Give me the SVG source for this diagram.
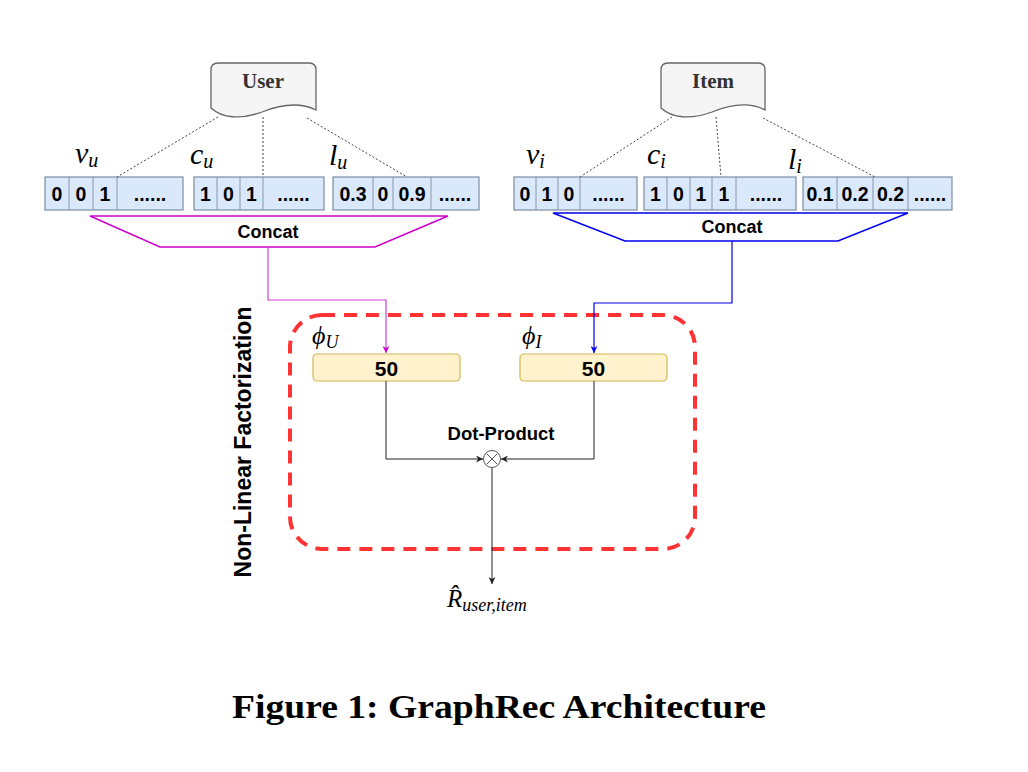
<svg xmlns="http://www.w3.org/2000/svg" width="1028" height="772" viewBox="0 0 1028 772">
<defs>
<style>
.cell{fill:#dae8fc;stroke:#7d8ca0;stroke-width:1.2}
.div{stroke:#8a96a6;stroke-width:1}
.d{font-family:"Liberation Sans",Arial,sans-serif;font-weight:bold;font-size:19.5px;fill:#000;text-anchor:middle;dominant-baseline:central}
.m{font-family:"Liberation Serif","Times New Roman",serif;font-style:italic;fill:#000}
.dot{fill:none;stroke:#444;stroke-width:1;stroke-dasharray:2 2}
.doc{fill:#f5f5f5;stroke:#666;stroke-width:1.3}
.doct{font-family:"Liberation Serif","Times New Roman",serif;font-weight:bold;font-size:21px;fill:#333;text-anchor:middle;dominant-baseline:central}
.box{fill:#fff2cc;stroke:#d6b656;stroke-width:1.2}
.blk{fill:none;stroke:#222;stroke-width:1}
</style>
<marker id="ab" viewBox="0 0 10 10" refX="10" refY="5" markerWidth="7" markerHeight="7" markerUnits="userSpaceOnUse" orient="auto"><path d="M0,0 L10,5 L0,10 L3,5 Z" fill="#222"/></marker>
<marker id="am" viewBox="0 0 10 10" refX="10" refY="5" markerWidth="7" markerHeight="7" markerUnits="userSpaceOnUse" orient="auto"><path d="M0,0 L10,5 L0,10 L3,5 Z" fill="#cc00cc"/></marker>
<marker id="abl" viewBox="0 0 10 10" refX="10" refY="5" markerWidth="7" markerHeight="7" markerUnits="userSpaceOnUse" orient="auto"><path d="M0,0 L10,5 L0,10 L3,5 Z" fill="#0000ee"/></marker>
</defs>
<rect width="1028" height="772" fill="#fff"/>

<g id="user">
<path class="doc" d="M316,110 V70 Q316,63 309,63 H218 Q211,63 211,70 V108 C222,118 240,120 262,112 C282,104 300,102 316,110 Z"/>
<text class="doct" x="263" y="81">User</text>
</g>
<g id="item">
<path class="doc" transform="translate(450,0)" d="M315,110 V70 Q315,63 308,63 H218 Q211,63 211,70 V108 C222,118 240,120 262,112 C282,104 300,102 315,110 Z"/>
<text class="doct" x="713" y="81">Item</text>
</g>

<g id="vu">
<rect class="cell" x="45" y="177" width="138" height="33"/>
<path class="div" d="M69,177V210M93,177V210M117,177V210"/>
<text class="d" x="57" y="194">0</text><text class="d" x="81" y="194">0</text><text class="d" x="105" y="194">1</text><text class="d" x="150" y="194">......</text>
<text class="m" x="75" y="163" font-size="30">v<tspan font-size="20" dy="4">u</tspan></text>
</g>
<g id="cu">
<rect class="cell" x="194" y="177" width="130" height="33"/>
<path class="div" d="M217,177V210M240,177V210M263,177V210"/>
<text class="d" x="205.5" y="194">1</text><text class="d" x="228.5" y="194">0</text><text class="d" x="251.5" y="194">1</text><text class="d" x="293.5" y="194">......</text>
<text class="m" x="190" y="164" font-size="30">c<tspan font-size="20" dy="4">u</tspan></text>
</g>
<g id="lu">
<rect class="cell" x="333" y="177" width="146" height="33"/>
<path class="div" d="M373,177V210M393,177V210M431,177V210"/>
<text class="d" x="353" y="194">0.3</text><text class="d" x="383" y="194">0</text><text class="d" x="412" y="194">0.9</text><text class="d" x="455" y="194">......</text>
<text class="m" x="329" y="165" font-size="30">l<tspan font-size="20" dy="4">u</tspan></text>
</g>

<g id="vi">
<rect class="cell" x="514" y="177" width="123" height="33"/>
<path class="div" d="M536,177V210M558,177V210M580,177V210"/>
<text class="d" x="525" y="194">0</text><text class="d" x="547" y="194">1</text><text class="d" x="569" y="194">0</text><text class="d" x="608.5" y="194">......</text>
<text class="m" x="526" y="164" font-size="30">v<tspan font-size="20" dy="4">i</tspan></text>
</g>
<g id="ci">
<rect class="cell" x="644" y="177" width="152" height="33"/>
<path class="div" d="M667,177V210M690,177V210M712,177V210M736,177V210"/>
<text class="d" x="655.5" y="194">1</text><text class="d" x="678.5" y="194">0</text><text class="d" x="701" y="194">1</text><text class="d" x="724" y="194">1</text><text class="d" x="766" y="194">......</text>
<text class="m" x="647" y="164" font-size="30">c<tspan font-size="20" dy="4">i</tspan></text>
</g>
<g id="li">
<rect class="cell" x="803" y="177" width="149" height="33"/>
<path class="div" d="M837,177V210M873,177V210M908,177V210"/>
<text class="d" x="820" y="194">0.1</text><text class="d" x="855" y="194">0.2</text><text class="d" x="890.5" y="194">0.2</text><text class="d" x="930" y="194">......</text>
<text class="m" x="788" y="169" font-size="30">l<tspan font-size="20" dy="4">i</tspan></text>
</g>

<g id="concat-user">
<path d="M90,216 H448 L375,247 H160 Z" fill="#fff" stroke="#cc00cc" stroke-width="1.5"/>
<text class="d" x="268" y="232" style="font-size:18px">Concat</text>
</g>
<g id="concat-item">
<path d="M553,213 H908 L838,241 H625 Z" fill="#fff" stroke="#0000ee" stroke-width="1.5"/>
<text class="d" x="732" y="227" style="font-size:18px">Concat</text>
</g>

<g id="nlf">
<rect x="290" y="315" width="405" height="234" rx="32" fill="none" stroke="#ff3333" stroke-width="4" stroke-dasharray="13 9"/>
<text class="d" transform="translate(243,442) rotate(-90)" x="0" y="0" style="font-size:23px">Non-Linear Factorization</text>
</g>

<g id="phiU">
<rect class="box" x="313" y="354" width="147" height="27" rx="4"/>
<text class="d" x="386.5" y="368" style="font-size:21px">50</text>
<text class="m" x="312" y="344" font-size="26">ϕ<tspan font-size="18" dy="4">U</tspan></text>
</g>
<g id="phiI">
<rect class="box" x="520" y="354" width="147" height="27" rx="4"/>
<text class="d" x="593.5" y="368" style="font-size:21px">50</text>
<text class="m" x="522" y="344" font-size="26">ϕ<tspan font-size="18" dy="4">I</tspan></text>
</g>

<g id="dot">
<circle cx="492" cy="459" r="8.5" fill="#fff" stroke="#555" stroke-width="1"/>
<path d="M487,454 L497,464 M497,454 L487,464" stroke="#555" stroke-width="1"/>
<text class="d" x="501" y="433" style="font-size:18.5px">Dot-Product</text>
</g>

<g id="output">
<text class="m" x="447" y="607" font-size="25">R̂<tspan font-size="18" dy="4">user,item</tspan></text>
</g>

<g id="connectors">
<path class="dot" d="M218,117 L117,177 M263,117 L263,177 M307,118 L407,177"/>
<path class="dot" d="M672,117 L580,177 M716,117 L721,177 M763,118 L875,177"/>
<path d="M268,247 V300 H386 V353" fill="none" stroke="#d040d0" stroke-width="1.2" marker-end="url(#am)"/>
<path d="M732,241 V303 H594 V353" fill="none" stroke="#0000ee" stroke-width="1.2" marker-end="url(#abl)"/>
<path class="blk" d="M386,381 V459 H483" marker-end="url(#ab)"/>
<path class="blk" d="M594,381 V459 H501" marker-end="url(#ab)"/>
<path class="blk" d="M492,468 V584" marker-end="url(#ab)"/>
</g>

<text x="499" y="718" font-family="'Liberation Serif','Times New Roman',serif" font-weight="bold" font-size="34" text-anchor="middle" textLength="534" lengthAdjust="spacingAndGlyphs">Figure 1: GraphRec Architecture</text>
</svg>
